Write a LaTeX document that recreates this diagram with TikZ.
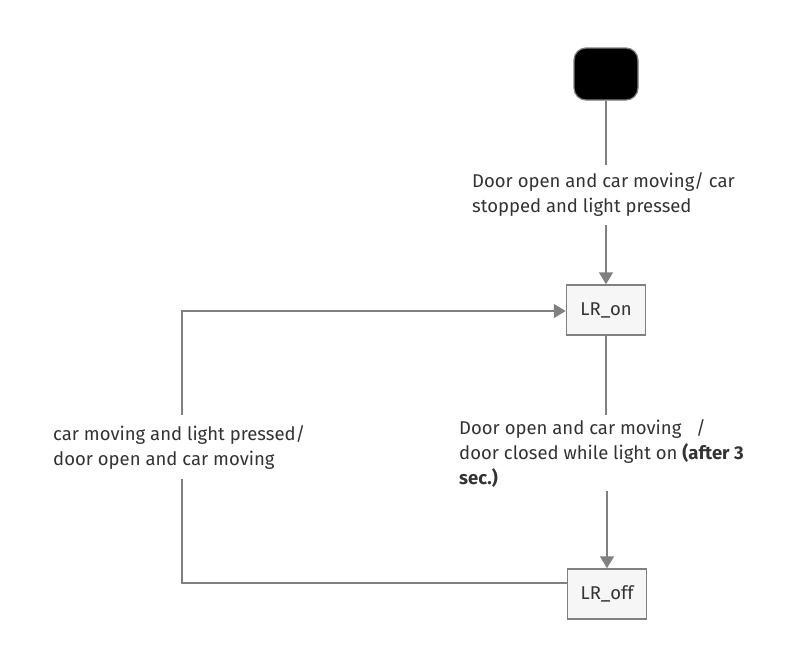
\documentclass[tikz,border=0pt]{standalone}
\usepackage{fontspec}
\setmainfont{Fira Sans}
\usepackage{tikz}
\usetikzlibrary{
	arrows.meta,
	positioning
}
\definecolor{LineGray}{RGB}{128,128,128}
\definecolor{BoxGray}{RGB}{246,246,246}
\definecolor{TextGray}{RGB}{51,51,51}

\tikzset{
	state/.style={draw=LineGray, line width=1.5pt, fill=BoxGray, minimum width=79pt, minimum height=50pt, inner sep=0pt, text=TextGray, font=\fontsize{18.5}{25}\selectfont},
	startstate/.style={draw=LineGray, line width=1.2pt, fill=black, rounded corners=12pt, minimum width=64pt, minimum height=52pt},
	lbl/.style={anchor=west, align=left, inner xsep=0pt, text=TextGray, font=\fontsize{18.5}{25}\selectfont},
	flow/.style={draw=LineGray, line width=1.5pt}
}

\begin{document}
\begin{tikzpicture}[x=1pt, y=-1pt]
		\useasboundingbox (0,0) rectangle (808,667);
		
		\node[startstate] (start) at (606,74) {};
		\node[state] (on) at (606,310) {LR\_on};
		\node[state] (off) at (607,594) {LR\_off};
		\coordinate (loopx) at (182,0);
		
		\node[lbl, inner ysep=8pt] (t1) at (472,195) {Door open and car moving/ car\\stopped and light pressed};
		\node[lbl, inner ysep=4pt] (t2) at (459,453) {Door open and car moving \ \ /\\door closed while light on \textbf{(after 3}\\\textbf{sec.)}};
		\node[lbl, inner ysep=10pt] (t3) at (53,447) {car moving and light pressed/\\door open and car moving};
		
		\draw[flow] (start) -- (start |- t1.north);
		\draw[flow, -{Triangle[length=12pt, width=14pt]}] (start |- t1.south) -- (on);
		\draw[flow] (on) -- (on |- t2.north);
		\draw[flow, -{Triangle[length=12pt, width=14pt]}] (off |- t2.south) -- (off);
		\draw[flow] ([yshift=11pt]off.west) -| (loopx |- t3.south);
		\draw[flow, -{Triangle[length=12pt, width=14pt]}] (loopx |- t3.north) |- ([yshift=-1pt]on.west);
	\end{tikzpicture}
\end{document}
